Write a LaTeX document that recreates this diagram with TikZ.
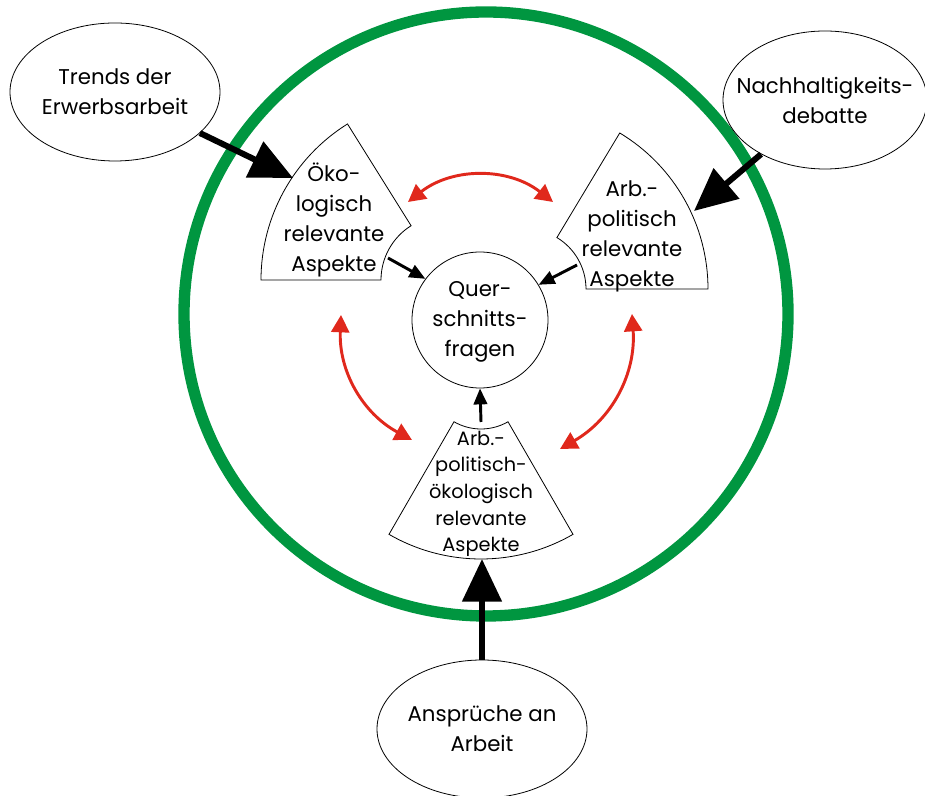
\documentclass[tikz,border=0pt]{standalone}
\usepackage{fontspec}
\setmainfont{Poppins}
\usetikzlibrary{arrows.meta,shapes.geometric}
\definecolor{ringgreen}{RGB}{0,150,64}
\definecolor{linkred}{RGB}{224,40,28}

\begin{document}
\begin{tikzpicture}[x=0.75pt,y=0.75pt,
	bubble/.style={draw,ellipse,line width=0.6pt,minimum width=157.5pt,minimum height=103.5pt,inner sep=0pt},
	txt/.style={align=center,font=\fontsize{16}{22.5}\selectfont},
	piece/.style={draw,fill=white,line width=0.6pt},
	bigarrow/.style={line width=4.5pt,-{Triangle[length=32pt,width=29pt]}},
	smallarrow/.style={line width=2.2pt,-{Triangle[length=12pt,width=10pt]}},
	link/.style={linkred,line width=2.2pt,{Triangle[length=13pt,width=13.5pt]}-{Triangle[length=13pt,width=13.5pt]}}]
	\useasboundingbox (0,0) rectangle (925,796);
	% green ring
	\draw[ringgreen,line width=8.5pt] (486,482) circle[radius=302];
	% sector centres
	\coordinate (coeko) at (445,516);
	\coordinate (carbpol) at (526,507);
	\coordinate (carboeko) at (481,421);
	% three sectors
	\draw[piece] ([shift={(coeko)}]122:184) arc[start angle=122,end angle=180,radius=184]
		-- ([shift={(coeko)}]180:64) arc[start angle=180,end angle=122,radius=64] -- cycle;
	\draw[piece] ([shift={(carbpol)}]0:182) arc[start angle=0,end angle=59,radius=182]
		-- ([shift={(carbpol)}]59:60) arc[start angle=59,end angle=0,radius=60] -- cycle;
	\draw[piece] ([shift={(carboeko)}]240:184) arc[start angle=240,end angle=300,radius=184]
		-- ([shift={(carboeko)}]300:54) arc[start angle=300,end angle=240,radius=54] -- cycle;
	\node[txt] (oeko) at (334,576) {Öko-\\logisch\\relevante\\Aspekte};
	\node[txt] (arbpol) at (632,560) {Arb.-\\politisch\\relevante\\Aspekte};
	\node[txt,font=\fontsize{14.5}{20}\selectfont] (arboeko) at (481,302) {Arb.-\\politisch-\\ökologisch\\relevante\\Aspekte};
	% centre
	\node[draw,circle,line width=0.6pt,minimum size=102pt,inner sep=0pt] (quer) at (480,476) {};
	\node[txt] (quertxt) at (480,474) {Quer-\\schnitts-\\fragen};
	% outer ellipses
	\node[bubble] (trends) at (115,704) {};
	\node[txt] (trendstxt) at (trends) {Trends der\\Erwerbsarbeit};
	\node[bubble,minimum width=153pt] (nachhaltigkeit) at (825,696) {};
	\node[txt] (nachhaltigkeittxt) at (nachhaltigkeit) {Nachhaltigkeits-\\debatte};
	\node[bubble] (ansprueche) at (482,67) {};
	\node[txt] (anspruechetxt) at (ansprueche) {Ansprüche an\\Arbeit};
	% arrow ends
	\coordinate (oekotip) at (293,618);
	\coordinate (arbpoltip) at (694,585);
	\coordinate (arboekotip) at (482,237);
	\coordinate (oekofoot) at (388,538);
	\coordinate (arbpolfoot) at (577,531);
	\coordinate (arboekofoot) at (481,374);
	\draw[bigarrow] (trends) -- (oekotip);
	\draw[bigarrow] (nachhaltigkeit) -- (arbpoltip);
	\draw[bigarrow] (ansprueche) -- (arboekotip);
	\draw[smallarrow] (oekofoot) -- (quer.143);
	\draw[smallarrow] (arbpolfoot) -- (quer.31);
	\draw[smallarrow] (arboekofoot) -- (quer.south);
	% red links
	\coordinate (la) at (408,594);
	\coordinate (lb) at (553,594);
	\coordinate (lc) at (341,481);
	\coordinate (ld) at (412,356);
	\coordinate (le) at (632,482);
	\coordinate (lf) at (560,347);
	\draw[link] (la) to[bend left=38] (lb);
	\draw[link] (lc) to[bend right=32] (ld);
	\draw[link] (le) to[bend left=32] (lf);
\end{tikzpicture}
\end{document}
